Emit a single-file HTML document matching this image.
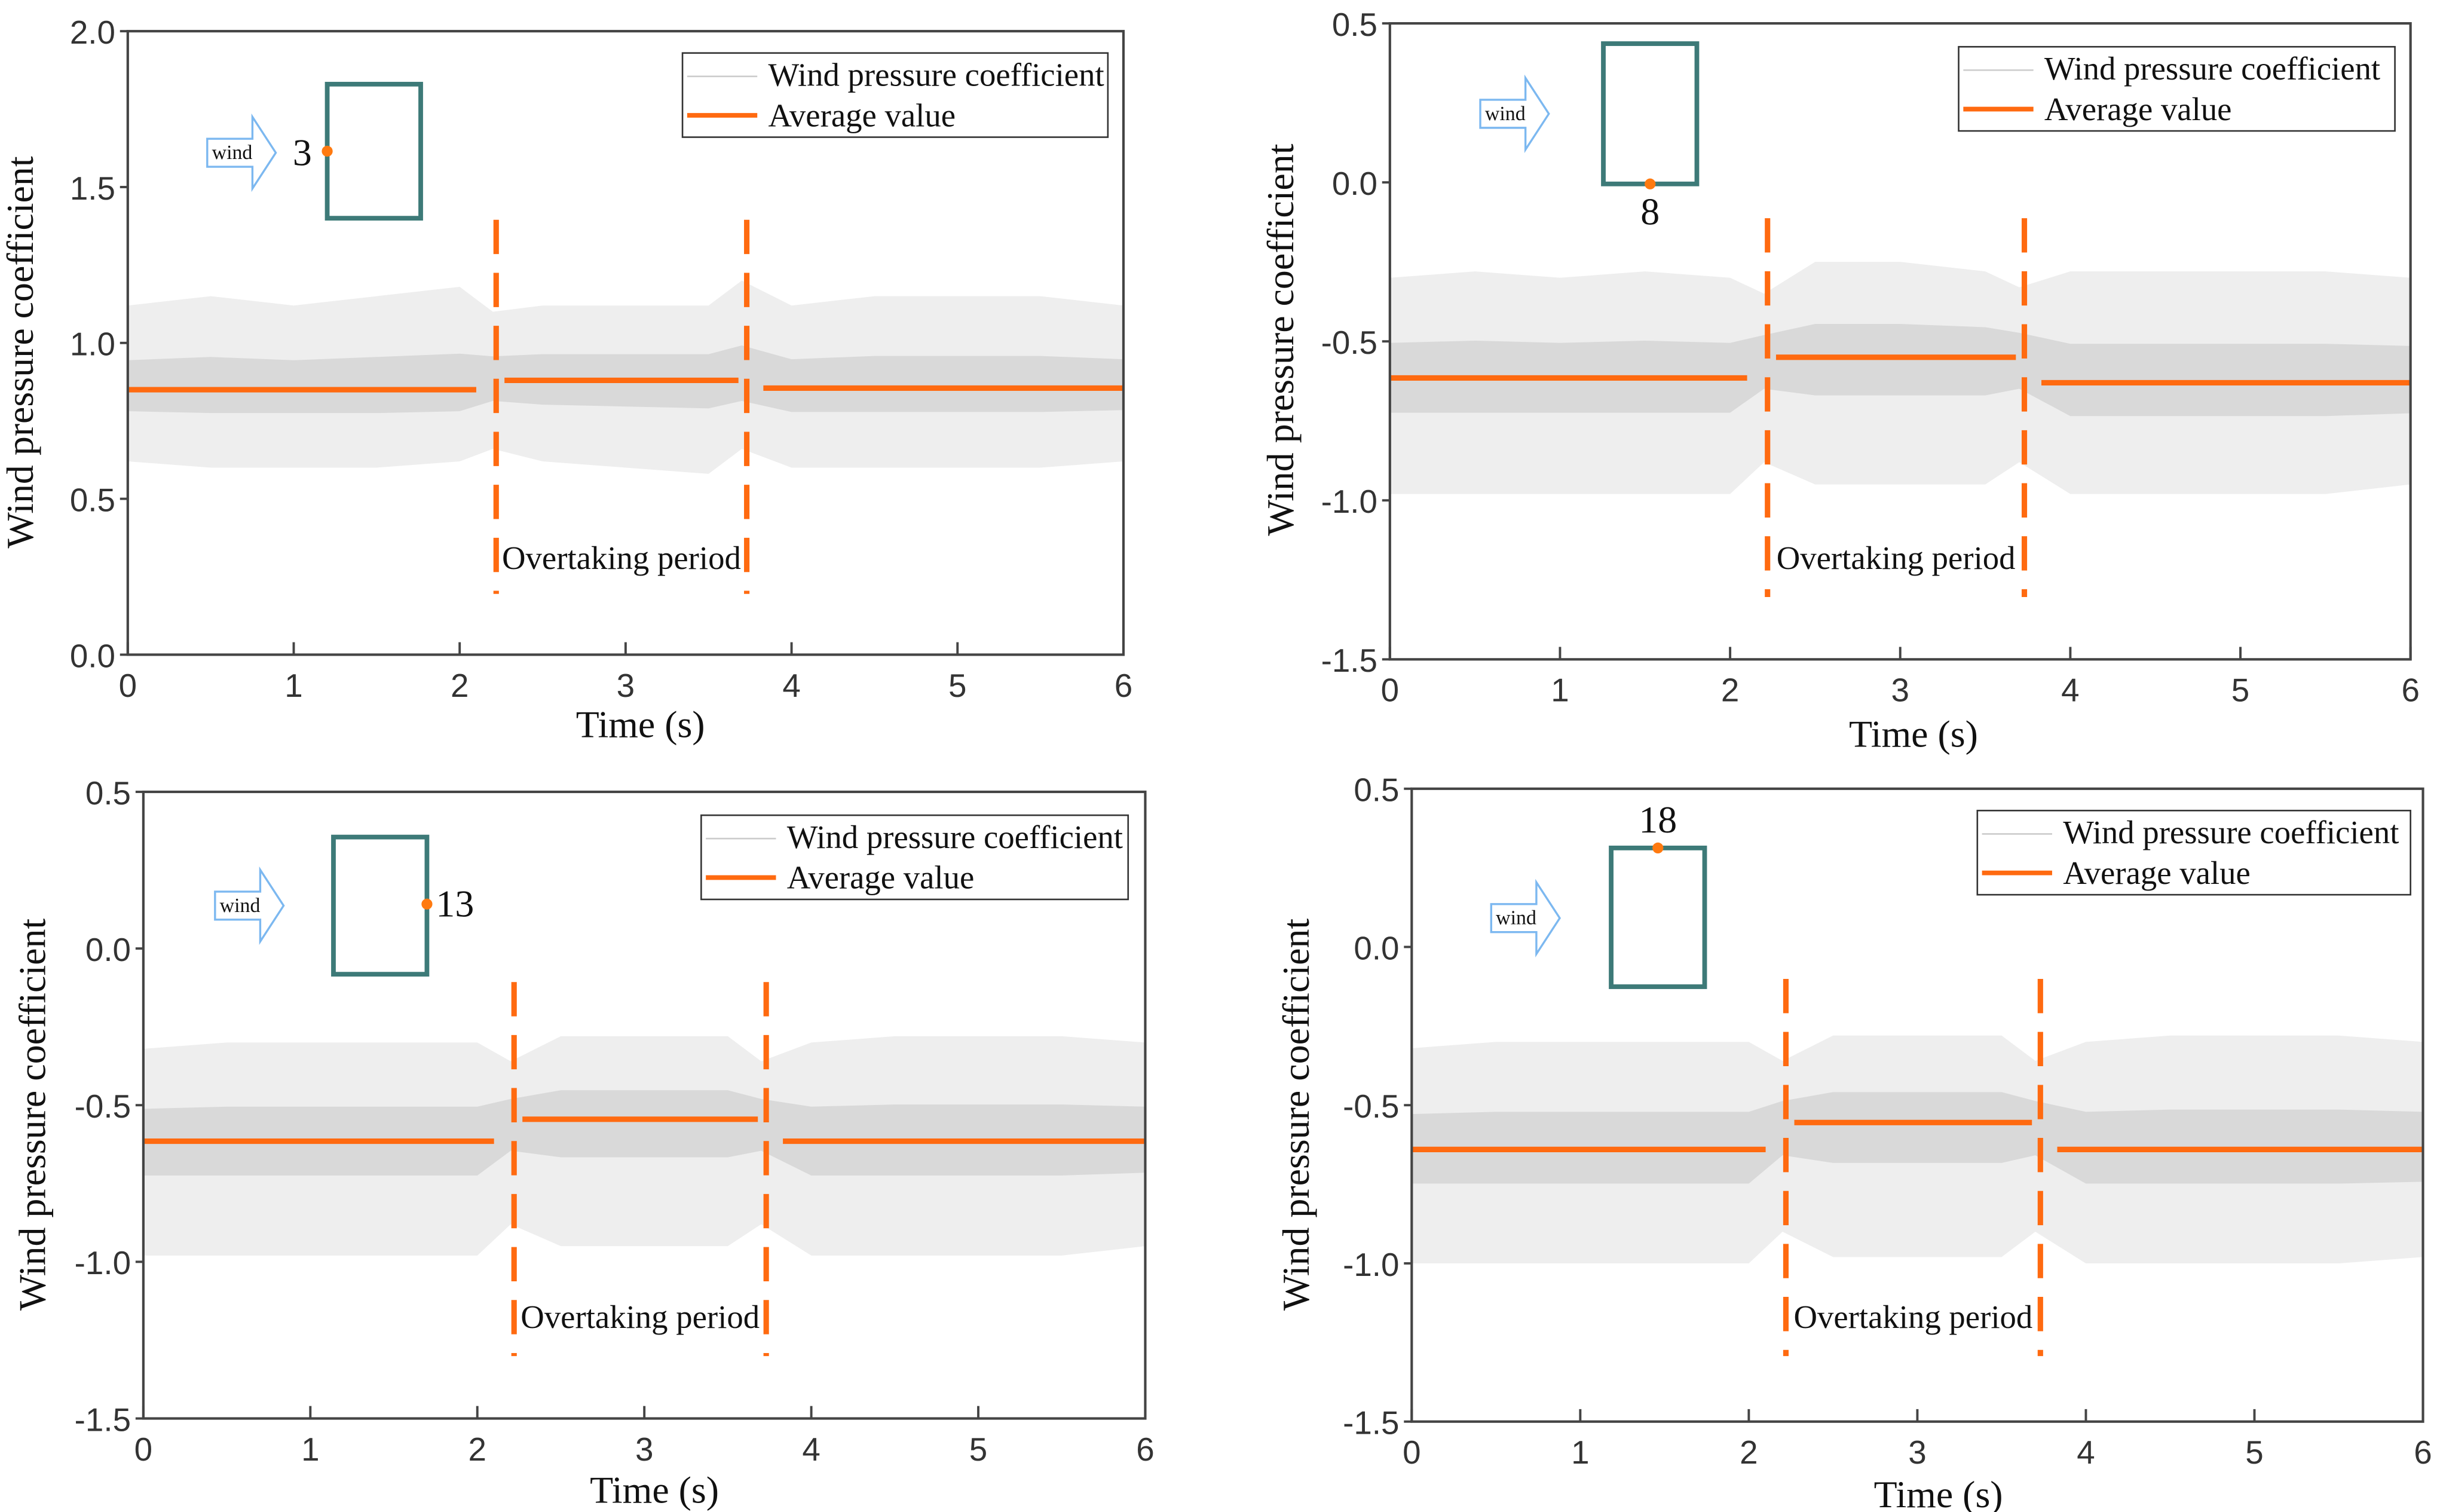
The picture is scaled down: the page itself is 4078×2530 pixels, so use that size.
<!DOCTYPE html>
<html><head><meta charset="utf-8"><style>
html,body{margin:0;padding:0;background:#fff;}
svg{display:block;}
.tick{font-family:"Liberation Sans Narrow","Liberation Sans",sans-serif;font-size:21px;fill:#333;}
.title{font-family:"Liberation Serif",serif;font-size:24.5px;fill:#111;}
.leg{font-family:"Liberation Serif",serif;font-size:21px;fill:#111;}
.wind{font-family:"Liberation Serif",serif;font-size:13px;fill:#111;}
</style></head><body>
<svg id="fig" width="4078" height="2530" viewBox="0 0 1564 970" preserveAspectRatio="none" xmlns="http://www.w3.org/2000/svg"></svg>
<script>
// ---- data ----
const xTicks = [0,1,2,3,4,5,6];
const yTicksA = [0.0,0.5,1.0,1.5,2.0];
const yTicksB = [-1.5,-1.0,-0.5,0.0,0.5];
const segStart = [0, 2.27, 3.83];
const segEnd = [2.1, 3.68, 6];
const periodLines = [2.22, 3.73];
const envT = [0,0.5,1,1.5,2,2.2,2.5,3,3.5,3.7,4,4.5,5,5.5,6];
const p1Mean = [0.85,0.88,0.855];
const p1Up = [1.12,1.15,1.12,1.15,1.18,1.1,1.12,1.12,1.12,1.2,1.12,1.15,1.15,1.15,1.12];
const p1Lo = [0.62,0.6,0.6,0.6,0.62,0.66,0.62,0.6,0.58,0.66,0.6,0.6,0.6,0.6,0.62];
const p2Mean = [-0.615,-0.55,-0.63];
const p2Up = [-0.3,-0.28,-0.3,-0.28,-0.3,-0.35,-0.25,-0.25,-0.28,-0.33,-0.28,-0.28,-0.28,-0.28,-0.3];
const p2Lo = [-0.98,-0.98,-0.98,-0.98,-0.98,-0.88,-0.95,-0.95,-0.95,-0.88,-0.98,-0.98,-0.98,-0.98,-0.95];
const p3Mean = [-0.615,-0.545,-0.615];
const p3Up = [-0.32,-0.3,-0.3,-0.3,-0.3,-0.36,-0.28,-0.28,-0.28,-0.36,-0.3,-0.28,-0.28,-0.28,-0.3];
const p3Lo = [-0.98,-0.98,-0.98,-0.98,-0.98,-0.88,-0.95,-0.95,-0.95,-0.88,-0.98,-0.98,-0.98,-0.98,-0.95];
const p4Mean = [-0.64,-0.555,-0.64];
const p4Up = [-0.32,-0.3,-0.3,-0.3,-0.3,-0.36,-0.28,-0.28,-0.28,-0.36,-0.3,-0.28,-0.28,-0.28,-0.3];
const p4Lo = [-1.0,-1.0,-1.0,-1.0,-1.0,-0.9,-0.98,-0.98,-0.98,-0.9,-1.0,-1.0,-1.0,-1.0,-0.98];

const NS="http://www.w3.org/2000/svg";
const fig=document.getElementById('fig');
function mk(tag,attrs,parent,text){const e=document.createElementNS(NS,tag);for(const k in attrs)e.setAttribute(k,attrs[k]);if(text!==undefined)e.textContent=text;(parent||fig).appendChild(e);return e;}

function panel(c,idx){
  const g=mk('g',{});
  
  
  const X=t=>c.x0+(c.x1-c.x0)*t/6;
  const Y=v=>c.yb+(c.yt-c.yb)*(v-c.ymin)/(c.ymax-c.ymin);
  const segMean=t=>c.mean[t<2.2?0:(t<3.75?1:2)];
  let pts=c.up.map((v,i)=>X(envT[i])+','+Y(v)).concat(c.lo.map((v,i)=>X(envT[i])+','+Y(v)).reverse());
  const env=mk('polygon',{points:pts.join(' '),fill:'#eeeeee'},g);
  
  
  let pts2=c.up.map((v,i)=>X(envT[i])+','+Y(segMean(envT[i])+(v-segMean(envT[i]))*0.35)).concat(c.lo.map((v,i)=>X(envT[i])+','+Y(segMean(envT[i])+(v-segMean(envT[i]))*0.3)).reverse());
  mk('polygon',{points:pts2.join(' '),fill:'#d9d9d9'},g);
  c.mean.forEach((m,i)=>{
    const l=mk('line',{x1:X(segStart[i]),x2:X(segEnd[i]),y1:Y(m),y2:Y(m),stroke:'#ff6a10','stroke-width':3.5},g);
    
    
  });
  periodLines.forEach((p,i)=>{
    const l=mk('line',{x1:X(p),x2:X(p),y1:c.dTop,y2:c.dBot,stroke:'#ff6a10','stroke-width':3.5,'stroke-dasharray':'22,12'},g);
    
    
  });
  const op=mk('text',{x:(X(periodLines[0])+X(periodLines[1]))/2,y:c.labY,'text-anchor':'middle',class:'leg'},g,'Overtaking period');
  
  
  const fr=mk('rect',{x:c.x0,y:c.yt,width:c.x1-c.x0,height:c.yb-c.yt,fill:'none',stroke:'#444','stroke-width':1.6},g);
  
  
  xTicks.forEach(t=>{
    mk('line',{x1:X(t),x2:X(t),y1:c.yb,y2:c.yb-8,stroke:'#444','stroke-width':1.5},g);
    const tx=mk('text',{x:X(t),y:c.yb+27,'text-anchor':'middle',class:'tick'},g,String(t));
    
    
  });
  c.yticks.forEach(v=>{
    mk('line',{x1:c.x0,x2:c.x0-5,y1:Y(v),y2:Y(v),stroke:'#444','stroke-width':1.5},g);
    const tx=mk('text',{x:c.x0-8,y:Y(v)+8,'text-anchor':'end',class:'tick'},g,v.toFixed(1));
    
    
  });
  const xt=mk('text',{x:c.xtX,y:c.xtY,'text-anchor':'middle',class:'title'},g,'Time (s)');
  
  
  const yt=mk('text',{x:0,y:0,'text-anchor':'middle',class:'title',transform:`translate(${c.ytX},${c.ytY}) rotate(-90)`},g,'Wind pressure coefficient');
  
  
  const lg=mk('g',{},g);
  
  
  mk('rect',{x:c.lx,y:c.ly,width:c.lw,height:54,fill:'#fff',stroke:'#333','stroke-width':1},lg);
  mk('line',{x1:c.lx+3,x2:c.lx+48,y1:c.ly+15,y2:c.ly+15,stroke:'#ccc','stroke-width':1},lg);
  mk('line',{x1:c.lx+3,x2:c.lx+48,y1:c.ly+40,y2:c.ly+40,stroke:'#ff6a10','stroke-width':3},lg);
  mk('text',{x:c.lx+55,y:c.ly+21,class:'leg'},lg,'Wind pressure coefficient');
  mk('text',{x:c.lx+55,y:c.ly+47,class:'leg'},lg,'Average value');
  const b=mk('g',{},g);
  
  
  const a=c.ax,ay=c.ay;
  mk('polygon',{points:`${a},${ay-9} ${a+29},${ay-9} ${a+29},${ay-23} ${a+44},${ay} ${a+29},${ay+23} ${a+29},${ay+9} ${a},${ay+9}`,fill:'#fff',stroke:'#7cb8f0','stroke-width':1.3},b);
  mk('text',{x:a+16,y:ay+4,'text-anchor':'middle',class:'wind'},b,'wind');
  mk('rect',{x:c.bx,y:c.by,width:60,height:c.bh,fill:'none',stroke:'#3d7a78','stroke-width':3},b);
  mk('circle',{cx:c.dx,cy:c.dy,r:3.5,fill:'#ff7a10'},b);
  mk('text',{x:c.nx,y:c.ny,'text-anchor':'middle',class:'title'},b,c.num);
}

panel({x0:82,x1:721,yt:20,yb:420,ymin:0,ymax:2,yticks:yTicksA,mean:p1Mean,up:p1Up,lo:p1Lo,dTop:141,dBot:381,labY:365,
  xtX:411,xtY:473,ytX:21,ytY:226,lx:438,ly:34,lw:273,ax:133,ay:98,bx:210,by:54,bh:86,dx:210,dy:97,nx:194,ny:106,num:'3'},1);
panel({x0:892,x1:1547,yt:15,yb:423,ymin:-1.5,ymax:0.5,yticks:yTicksB,mean:p2Mean,up:p2Up,lo:p2Lo,dTop:140,dBot:383,labY:365,
  xtX:1228,xtY:479,ytX:830,ytY:218,lx:1257,ly:30,lw:280,ax:950,ay:73,bx:1029,by:28,bh:90,dx:1059,dy:118,nx:1059,ny:144,num:'8'},2);
panel({x0:92,x1:735,yt:508,yb:910,ymin:-1.5,ymax:0.5,yticks:yTicksB,mean:p3Mean,up:p3Up,lo:p3Lo,dTop:630,dBot:870,labY:852,
  xtX:420,xtY:964,ytX:29,ytY:715,lx:450,ly:523,lw:274,ax:138,ay:581,bx:214,by:537,bh:88,dx:274,dy:580,nx:292,ny:588,num:'13'},3);
panel({x0:906,x1:1555,yt:506,yb:912,ymin:-1.5,ymax:0.5,yticks:yTicksB,mean:p4Mean,up:p4Up,lo:p4Lo,dTop:628,dBot:870,labY:852,
  xtX:1244,xtY:967,ytX:840,ytY:715,lx:1269,ly:520,lw:278,ax:957,ay:589,bx:1034,by:544,bh:89,dx:1064,dy:544,nx:1064,ny:534,num:'18'},4);
</script>
</body></html>
